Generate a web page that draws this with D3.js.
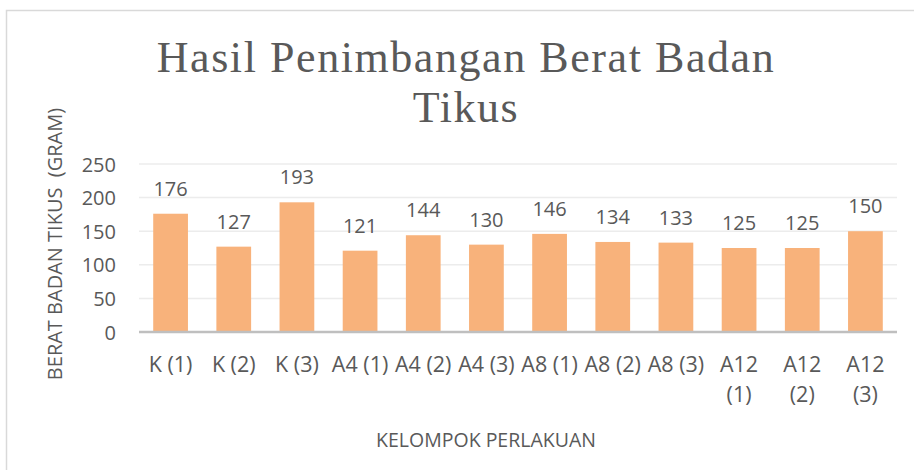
<!DOCTYPE html>
<html lang="en">
<head>
<meta charset="utf-8">
<style>
  body { margin: 0; background: #fff; }
  svg text { fill: #595959; }
</style>
</head>
<body>
<div id="chart"></div>
<script src="https://cdn.jsdelivr.net/npm/d3@7/dist/d3.min.js"></script>
<script>
var categories = ["K (1)", "K (2)", "K (3)", "A4 (1)", "A4 (2)", "A4 (3)", "A8 (1)", "A8 (2)", "A8 (3)", "A12 (1)", "A12 (2)", "A12 (3)"];
var weights = [176, 127, 193, 121, 144, 130, 146, 134, 133, 125, 125, 150];
var yTicks = [0, 50, 100, 150, 200, 250];

var W = 914, H = 470;
var plotLeft = 139, plotRight = 897, plotTop = 164, plotBottom = 332;

var svg = d3.select("#chart").append("svg")
    .attr("width", W).attr("height", H);

// chart frame
svg.append("rect")
    .attr("x", 6.5).attr("y", 10.5)
    .attr("width", W + 10).attr("height", H + 10)
    .attr("fill", "none").attr("stroke", "#d9d9d9").attr("stroke-width", 1.5);

var x = d3.scaleBand().domain(categories).range([plotLeft, plotRight]).paddingInner(0.45).paddingOuter(0.225);
var y = d3.scaleLinear().domain([0, 250]).range([plotBottom, plotTop]);

// gridlines
svg.append("g").selectAll("line")
    .data(yTicks.filter(function(d) { return d > 0; }))
    .enter().append("line")
    .attr("x1", plotLeft).attr("x2", plotRight)
    .attr("y1", function(d) { return y(d); })
    .attr("y2", function(d) { return y(d); })
    .attr("stroke", "#ececec").attr("stroke-width", 1.5);

// bars
svg.append("g").selectAll("rect")
    .data(weights)
    .enter().append("rect")
    .attr("x", function(d, i) { return x(categories[i]); })
    .attr("width", x.bandwidth())
    .attr("y", function(d) { return y(d); })
    .attr("height", function(d) { return y(0) - y(d); })
    .attr("fill", "#f8b27b");

// base axis line
svg.append("line")
    .attr("x1", plotLeft).attr("x2", plotRight)
    .attr("y1", y(0)).attr("y2", y(0))
    .attr("stroke", "#bfbfbf").attr("stroke-width", 2.5);

// y axis labels
var yAxis = d3.axisLeft(y).tickValues(yTicks).tickSize(0).tickPadding(0);
var yg = svg.append("g").attr("transform", "translate(116,0)").call(yAxis);
yg.select(".domain").remove();
yg.selectAll("text")
    .attr("font-family", "'Open Sans', sans-serif")
    .attr("font-size", 20)
    .attr("fill", "#595959")
    .attr("dy", "0.35em");

// data labels
svg.append("g").selectAll("text")
    .data(weights)
    .enter().append("text")
    .attr("x", function(d, i) { return x(categories[i]) + x.bandwidth() / 2; })
    .attr("y", function(d) { return y(d) - 18; })
    .attr("text-anchor", "middle")
    .attr("font-family", "'Open Sans', sans-serif")
    .attr("font-size", 20)
    .text(function(d) { return d; });

// x labels (wrap A12 labels)
var xl = svg.append("g").selectAll("text")
    .data(categories)
    .enter().append("text")
    .attr("x", function(d) { return x(d) + x.bandwidth() / 2; })
    .attr("y", 372)
    .attr("text-anchor", "middle")
    .attr("font-family", "'Open Sans', sans-serif")
    .attr("font-size", 21.5);
xl.each(function(d) {
    var t = d3.select(this);
    var parts = d.indexOf("A12") === 0 ? ["A12", d.slice(4)] : [d];
    parts.forEach(function(p, j) {
        t.append("tspan")
            .attr("x", x(d) + x.bandwidth() / 2)
            .attr("dy", j === 0 ? 0 : 30)
            .text(p);
    });
});

// axis titles
svg.append("text")
    .attr("transform", "translate(62,244) rotate(-90)")
    .attr("text-anchor", "middle")
    .attr("font-family", "'Open Sans', sans-serif")
    .attr("font-size", 20)
    .attr("xml:space", "preserve")
    .text("BERAT BADAN TIKUS  (GRAM)");

svg.append("text")
    .attr("x", 486).attr("y", 447)
    .attr("text-anchor", "middle")
    .attr("font-family", "'Open Sans', sans-serif")
    .attr("font-size", 19.5)
    .text("KELOMPOK PERLAKUAN");

// title
var title = svg.append("text")
    .attr("text-anchor", "middle")
    .attr("font-family", "'Liberation Serif', serif")
    .attr("font-size", 44);
var t1 = title.append("tspan").attr("x", 466).attr("y", 72).text("Hasil Penimbangan Berat Badan");
var t2 = title.append("tspan").attr("x", 466).attr("y", 122).text("Tikus");
// spread letters so the first line spans about 617px, as in the picture
var len = t1.node().getComputedTextLength();
var ls = Math.max(0, (617 - len) / 28);
title.attr("letter-spacing", ls);
</script>
</body>
</html>
